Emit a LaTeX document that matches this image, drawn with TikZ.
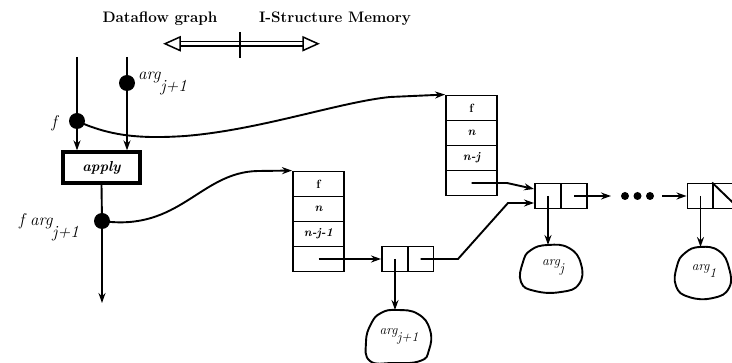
\documentclass[tikz,border=0pt]{standalone}
\usetikzlibrary{arrows.meta,calc}
\newcommand{\lowsub}[1]{\raisebox{-1.2ex}{#1}}
\newcommand{\deepsub}[1]{\raisebox{-1.6ex}{#1}}
\begin{document}
\begin{tikzpicture}[x=1pt,y=-1pt,
  ln/.style={line width=1.9pt},
  arr/.style={ln,-{Stealth[length=10pt,width=7pt]}},
  bigdot/.style={circle,fill=black,inner sep=0,minimum size=16pt},
  smalldot/.style={circle,fill=black,inner sep=0,minimum size=8pt},
  cell/.style={draw,line width=1.9pt,minimum width=51pt,minimum height=25pt,inner sep=0,font=\bfseries\itshape\fontsize{12}{14}\selectfont},
  half/.style={draw,line width=1.9pt,minimum width=26pt,minimum height=25pt,inner sep=0},
  lbl/.style={font=\itshape\fontsize{17}{20}\selectfont, inner sep=0},
  bloblbl/.style={font=\itshape\fontsize{13.5}{16}\selectfont, inner sep=0},
  title/.style={font=\bfseries\fontsize{15.2}{18}\selectfont, inner sep=0},
  blobline/.style={line width=1.9pt}
]
\clip (0,0) rectangle (732,363);

% titles
\node[title] (tdf) at (160,19) {Dataflow graph};
\node[title] (tism) at (335,19) {I-Structure Memory};

% double arrow
\draw[line width=1.5pt] (180,41.5) -- (303,41.5);
\draw[line width=1.5pt] (180,46) -- (303,46);
\draw[line width=1.5pt,fill=white] (180,37) -- (165,43.75) -- (180,50.5) -- cycle;
\draw[line width=1.5pt,fill=white] (303,37) -- (318,43.75) -- (303,50.5) -- cycle;
\draw[line width=1.5pt] (240,32) -- (240,58);

% dataflow part
\coordinate (ftop) at (77,57);
\coordinate (argtop) at (127,57);
\node[bigdot] (fdot) at (77,121) {};
\node[bigdot] (argdot) at (127,83) {};
\node[draw,line width=3.2pt,minimum width=77pt,minimum height=31pt,inner sep=0,
      font=\bfseries\itshape\fontsize{14.5}{17}\selectfont] (apply) at (101.5,167.5) {apply};
\node[bigdot] (foutdot) at (102,221) {};
\coordinate (outend) at (102,303);

\node[lbl,anchor=east] (flbl) at (57,123) {f};
\node[lbl,anchor=base west] (arglbl) at (138,80) {arg\deepsub{j+1}};
\node[lbl,anchor=base east] (foutlbl) at (79,226) {f arg\deepsub{j+1}};

\draw[ln] (ftop) -- (fdot);
\draw[arr] (fdot) -- (fdot |- apply.north);
\draw[ln] (argtop) -- (argdot);
\draw[arr] (argdot) -- (argdot |- apply.north);
\draw[ln] (apply.south) -- (foutdot);
\draw[arr] (foutdot) -- (outend);

% memory block 1
\node[cell] (b1f) at (471.5,108) {\upshape f};
\node[cell] (b1n) at (471.5,133) {n};
\node[cell] (b1j) at (471.5,158) {n-j};
\node[cell] (b1e) at (471.5,183) {};

% memory block 2
\node[cell] (b2f) at (318.5,184) {\upshape f};
\node[cell] (b2n) at (318.5,209) {n};
\node[cell] (b2j) at (318.5,234) {n-j-1};
\node[cell] (b2e) at (318.5,259) {};

% cons cells
\node[half] (c1a) at (395,259) {};
\node[half] (c1b) at (420.5,259) {};
\node[half] (c2a) at (548,196) {};
\node[half] (c2b) at (574,196) {};
\node[half] (c3a) at (700.5,196) {};
\node[half] (c3b) at (726,196) {};
\draw[line width=1.9pt] (c3b.north west) -- (c3b.south east);

% dots
\node[smalldot] (d1) at (625,196) {};
\node[smalldot] (d2) at (637.5,196) {};
\node[smalldot] (d3) at (650,196) {};

% curves from dataflow to memory
\draw[arr] (fdot.center) .. controls (110,136) and (140,139) .. (185,136)
   .. controls (260,130) and (340,102) .. (390,97) -- (b1f.north west);
\draw[arr] (foutdot.center) .. controls (180,232) and (200,172) .. (258,171) -- (b2f.north west);

% pointers
\coordinate (c2in1) at ($(c2a.west)+(0,-7)$);
\coordinate (c2in2) at ($(c2a.west)+(0,7)$);
\draw[arr] (b2e.center) -- (c1a.west);
\draw[arr] (b1e.center) -- (507,183) -- (c2in1);
\draw[arr] (c1b.center) -- (458,259) -- (508,203) -- (c2in2);
\draw[arr] (c2b.center) -- (611,196);
\draw[arr] (662,196) -- (c3a.west);

% blobs
\node[bloblbl] (blobA) at (399,336) {arg\lowsub{j+1}};
\coordinate (blobAtop) at (395,310);
\draw[blobline,shift={(398,336)}] plot[smooth cycle,tension=0.8] coordinates
  {(-1,-26) (20,-22) (32,-6) (31,14) (22,25) (-5,27) (-28,25) (-32,6) (-27,-12) (-17,-23)};

\node[bloblbl] (blobB) at (553,267) {arg\lowsub{j}};
\coordinate (blobBtop) at (548,245);
\draw[blobline,shift={(551,268)}] plot[smooth cycle,tension=0.8] coordinates
  {(-3,-23) (18,-20) (30,-4) (28,16) (10,24) (-16,23) (-30,14) (-28,-6) (-20,-18)};

\node[bloblbl] (blobC) at (704,271) {arg\lowsub{1}};
\coordinate (blobCtop) at (700.5,247);
\draw[blobline,shift={(703,272)}] plot[smooth cycle,tension=0.8] coordinates
  {(-3,-25) (16,-21) (26,-4) (26,16) (10,26) (-14,25) (-27,14) (-26,-6) (-18,-19)};

\draw[arr] (c1a.center) -- (blobAtop);
\draw[arr] (c2a.center) -- (blobBtop);
\draw[arr] (c3a.center) -- (blobCtop);
\end{tikzpicture}
\end{document}
